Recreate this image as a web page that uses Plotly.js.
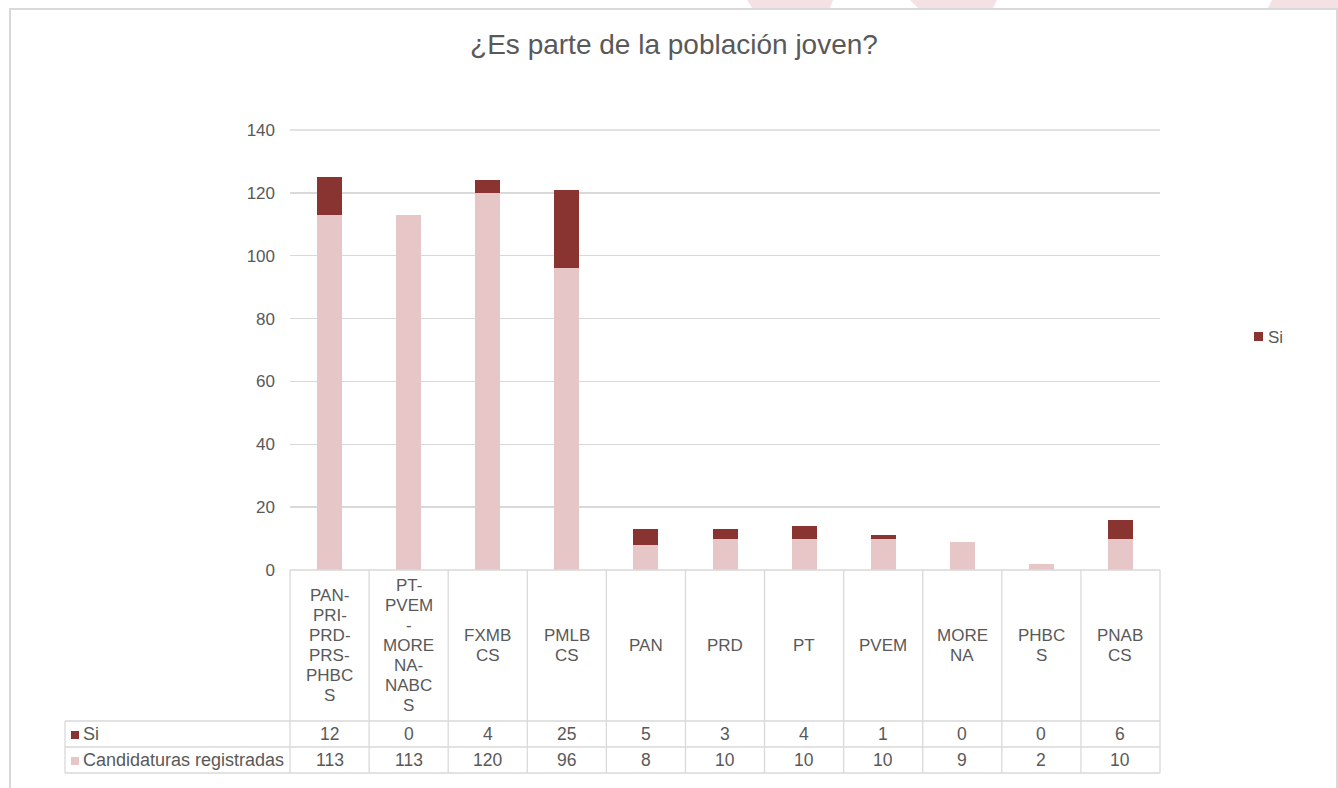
<!DOCTYPE html>
<html>
<head>
<meta charset="utf-8">
<script src="https://cdn.plot.ly/plotly-3.0.1.min.js"></script>
<style>html,body{margin:0;padding:0;background:#fff;}#chart{width:1338px;height:788px;}</style>
</head>
<body>
<div id="chart"></div>
<script>
const categories = ["PAN-PRI-PRD-PRS-PHBCS","PT-PVEM-MORENA-NABCS","FXMBCS","PMLBCS","PAN","PRD","PT","PVEM","MORENA","PHBCS","PNABCS"];
const tickLines = [["PAN-","PRI-","PRD-","PRS-","PHBC","S"],["PT-","PVEM","-","MORE","NA-","NABC","S"],["FXMB","CS"],["PMLB","CS"],["PAN"],["PRD"],["PT"],["PVEM"],["MORE","NA"],["PHBC","S"],["PNAB","CS"]];
const siValues = [12,0,4,25,5,3,4,1,0,0,6];
const registradasValues = [113,113,120,96,8,10,10,10,9,2,10];
const seriesNames = ["Si","Candidaturas registradas"];
const yTicks = [0,20,40,60,80,100,120,140];
const titleText = "¿Es parte de la población joven?";

const W = 1338, H = 788;
const PL = 290, PR = 1160, PT = 130, PB = 570;
const PW = PR - PL, PH = PB - PT;
const px = v => (v - PL) / PW;      // pixel x -> paper
const py = v => (PB - v) / PH;      // pixel y -> paper
const FONT = "Liberation Sans, Arial, sans-serif";
const TXT = "#595959";
const GRID = "#D9D9D9";
const DARK = "#8A3432";
const LIGHT = "#E6C6C7";
const n = categories.length;

const traces = [
  {type:"bar", x:categories, y:registradasValues, name:seriesNames[1], marker:{color:LIGHT}, showlegend:false, hoverinfo:"skip"},
  {type:"bar", x:categories, y:siValues, name:seriesNames[0], marker:{color:DARK}, showlegend:false, hoverinfo:"skip"}
];

const shapes = [];
const annotations = [];
const line = (x0,y0,x1,y1,c,w) => shapes.push({type:"line", xref:"paper", yref:"paper", x0:px(x0), y0:py(y0), x1:px(x1), y1:py(y1), line:{color:c||GRID, width:w||1.3}});

// faint watermark pieces above frame
const wm = (pts) => shapes.push({type:"path", xref:"paper", yref:"paper", layer:"below",
  path: "M " + pts.map(p => px(p[0]) + "," + py(p[1])).join(" L ") + " Z", fillcolor:"#F3E1E4", line:{width:0}});
wm([[747,0],[833,0],[830,8],[752,8]]);
wm([[910,0],[997,0],[993,8],[918,8]]);
wm([[1272,0],[1338,0],[1338,8],[1268,8]]);

// outer frame
shapes.push({type:"rect", xref:"paper", yref:"paper", x0:px(10), y0:py(9), x1:px(1337), y1:py(800), line:{color:GRID, width:2}});

// top gridline (at range edge)
line(PL, PT, PR, PT);

// table
const yRow1 = 721, yRow2 = 747, yRow3 = 773, xLeft = 65;
line(PL, PB, PR, PB);
line(xLeft, yRow1, PR, yRow1);
line(xLeft, yRow2, PR, yRow2);
line(xLeft, yRow3, PR, yRow3);
line(xLeft, yRow1, xLeft, yRow3);
for (let k = 0; k <= n; k++) {
  const xx = PL + k * PW / n;
  line(xx, PB, xx, yRow3);
}

const fnt = (s) => ({family:FONT, size:s, color:TXT});

// category labels (wrapped)
const lineH = 20, labelCenter = 645.5;
categories.forEach((c, i) => {
  const lines = tickLines[i];
  const start = labelCenter - (lines.length - 1) * lineH / 2;
  lines.forEach((t, j) => {
    annotations.push({xref:"x", yref:"paper", x:c, y:py(start + j * lineH), text:t, showarrow:false,
      xanchor:"center", yanchor:"middle", font:fnt(17)});
  });
  annotations.push({xref:"x", yref:"paper", x:c, y:py(734), text:String(siValues[i]), showarrow:false, xanchor:"center", yanchor:"middle", font:fnt(17.5)});
  annotations.push({xref:"x", yref:"paper", x:c, y:py(760), text:String(registradasValues[i]), showarrow:false, xanchor:"center", yanchor:"middle", font:fnt(17.5)});
});

// table legend keys
shapes.push({type:"rect", xref:"paper", yref:"paper", x0:px(71), x1:px(79), y0:py(731), y1:py(739), fillcolor:DARK, line:{width:0}});
shapes.push({type:"rect", xref:"paper", yref:"paper", x0:px(71), x1:px(79), y0:py(757), y1:py(765), fillcolor:LIGHT, line:{width:0}});
annotations.push({xref:"paper", yref:"paper", x:px(81), y:py(734), text:seriesNames[0], showarrow:false, xanchor:"left", yanchor:"middle", font:fnt(18)});
annotations.push({xref:"paper", yref:"paper", x:px(81), y:py(760), text:seriesNames[1], showarrow:false, xanchor:"left", yanchor:"middle", font:fnt(18)});

// right legend
shapes.push({type:"rect", xref:"paper", yref:"paper", x0:px(1254), x1:px(1263), y0:py(332), y1:py(341), fillcolor:DARK, line:{width:0}});
annotations.push({xref:"paper", yref:"paper", x:px(1266), y:py(337), text:seriesNames[0], showarrow:false, xanchor:"left", yanchor:"middle", font:fnt(17)});

const layout = {
  width:W, height:H,
  margin:{l:PL, r:W-PR, t:PT, b:H-PB, pad:0},
  paper_bgcolor:"#ffffff", plot_bgcolor:"#ffffff",
  barmode:"stack", bargap:0.684,
  showlegend:false,
  title:{text:titleText, x:674/W, xref:"container", xanchor:"center", y:1-44/H, yref:"container", yanchor:"middle", font:{family:FONT, size:28, color:TXT}},
  xaxis:{type:"category", categoryarray:categories, range:[-0.5, n-0.5], showticklabels:false, ticks:"", showgrid:false, zeroline:false, showline:false, fixedrange:true},
  yaxis:{range:[0,140], tickvals:yTicks, ticktext:yTicks.map(String), showgrid:true, gridcolor:GRID, gridwidth:1.3, zeroline:false, showline:false, ticks:"", ticklabelstandoff:14, tickfont:fnt(17), fixedrange:true},
  shapes:shapes,
  annotations:annotations
};
Plotly.newPlot("chart", traces, layout, {staticPlot:true, displayModeBar:false});
</script>
</body>
</html>
